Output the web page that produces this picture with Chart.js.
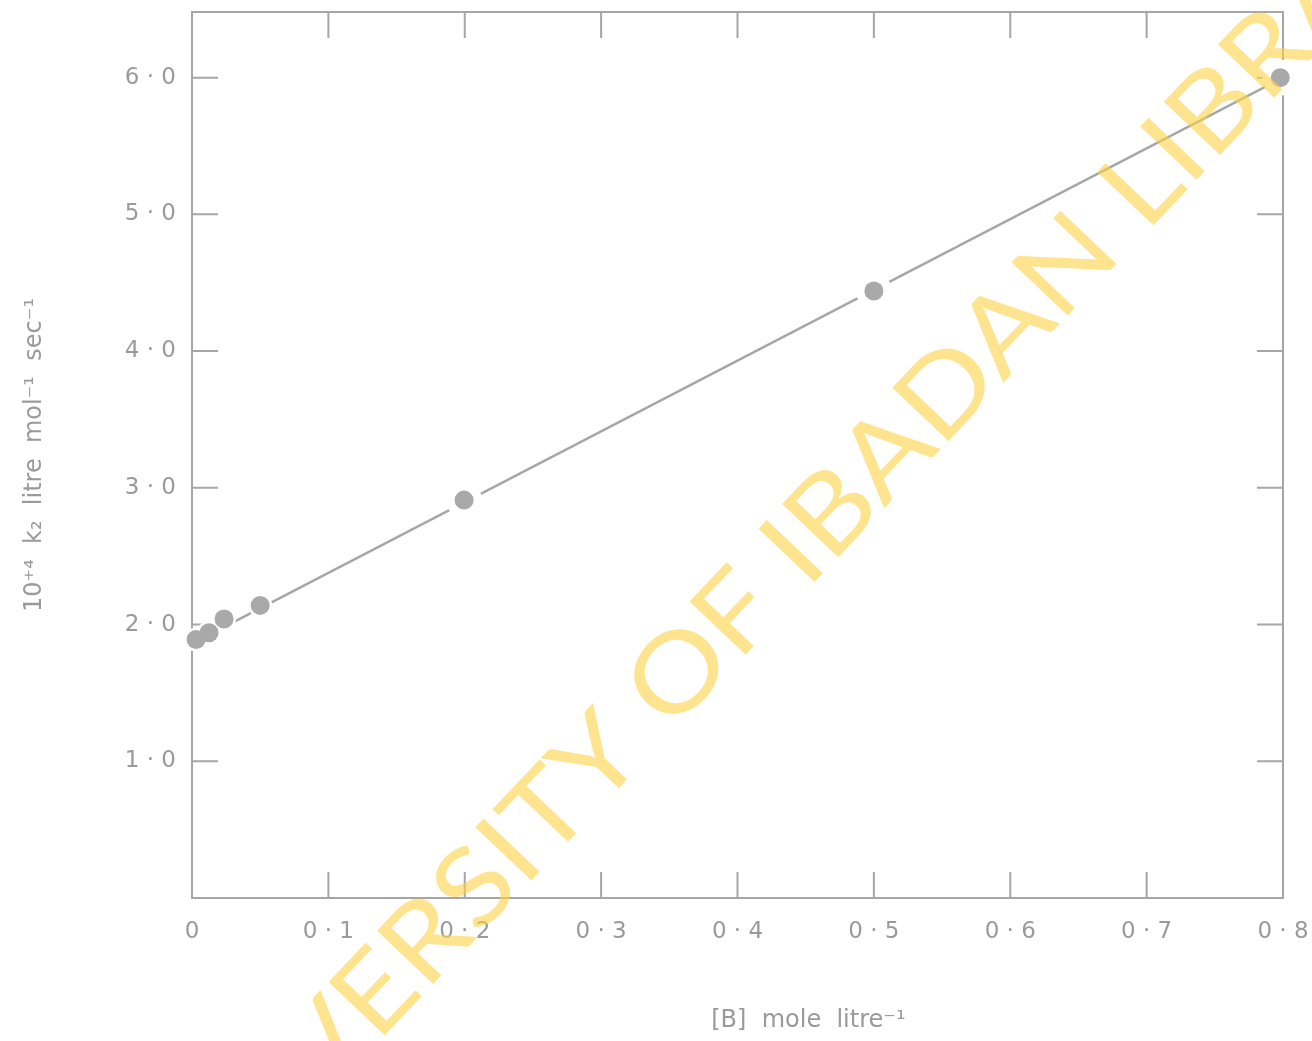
<!DOCTYPE html>
<html>
<head>
<meta charset="utf-8">
<title>k2 vs [B]</title>
<script src="https://cdn.jsdelivr.net/npm/chart.js@4.4.1/dist/chart.umd.min.js"></script>
<style>
    html, body {
        margin: 0;
        padding: 0;
        background: #ffffff;
    }
    .chart-wrapper {
        position: relative;
        width: 1312px;
        height: 1041px;
    }
</style>
</head>
<body>
<div class="chart-wrapper">
    <canvas id="chart" width="1312" height="1041"></canvas>
</div>
<script>
// measured points, [B] in mole/litre against 10^4 k2
const concB = [0.003, 0.0125, 0.0235, 0.05, 0.1995, 0.5, 0.798];
const k2 = [1.89, 1.94, 2.04, 2.14, 2.91, 4.44, 6.0];

// straight line drawn through the points
const fitX = [0, 0.8];
const fitY = [1.86, 6.0];

const xTickValues = [0, 0.1, 0.2, 0.3, 0.4, 0.5, 0.6, 0.7, 0.8];
const xTickLabels = ['0', '0 · 1', '0 · 2', '0 · 3', '0 · 4', '0 · 5', '0 · 6', '0 · 7', '0 · 8'];
const yTickValues = [1, 2, 3, 4, 5, 6];
const yTickLabels = ['1 · 0', '2 · 0', '3 · 0', '4 · 0', '5 · 0', '6 · 0'];

const xTitle = '[B]  mole  litre⁻¹';
const yTitle = '10⁺⁴  k₂  litre  mol⁻¹  sec⁻¹';
const watermark = 'UNIVERSITY OF IBADAN LIBRARY';

const INK = '#a6a6a6';
const TEXT = '#9a9a9a';
const FONT = '"DejaVu Sans", sans-serif';

// frame and inward tick marks on all four sides
const framePlugin = {
    id: 'frame',
    beforeDatasetsDraw(chart) {
        const { ctx, chartArea: a, scales } = chart;
        const len = 26;
        ctx.save();
        ctx.strokeStyle = INK;
        ctx.lineWidth = 2;
        ctx.strokeRect(a.left, a.top, a.right - a.left, a.bottom - a.top);
        ctx.beginPath();
        xTickValues.forEach(v => {
            if (v <= 0 || v >= 0.8) return;
            const px = scales.x.getPixelForValue(v);
            ctx.moveTo(px, a.top);
            ctx.lineTo(px, a.top + len);
            ctx.moveTo(px, a.bottom);
            ctx.lineTo(px, a.bottom - len);
        });
        yTickValues.forEach(v => {
            const py = scales.y.getPixelForValue(v);
            ctx.moveTo(a.left, py);
            ctx.lineTo(a.left + len, py);
            ctx.moveTo(a.right, py);
            ctx.lineTo(a.right - len, py);
        });
        ctx.stroke();
        ctx.restore();
    },
    afterDraw(chart) {
        const { ctx, chartArea: a } = chart;
        ctx.save();
        // x axis title sits right of centre in the original
        ctx.fillStyle = TEXT;
        ctx.font = '24px ' + FONT;
        ctx.textAlign = 'center';
        ctx.textBaseline = 'middle';
        ctx.fillText(xTitle, a.left + (a.right - a.left) * 0.565, 1021);

        // library stamp across the sheet
        const ang = -46.5 * Math.PI / 180;
        const dir = [Math.cos(ang), Math.sin(ang)];
        const stretch = 1.13;
        ctx.font = '108px Lato, sans-serif';
        ctx.textAlign = 'left';
        ctx.textBaseline = 'alphabetic';
        ctx.fillStyle = 'rgba(255, 210, 70, 0.6)';
        const w1 = ctx.measureText('UNIVERSITY OF ').width * stretch;
        const ix = 807, iy = 590;
        ctx.translate(ix - w1 * dir[0], iy - w1 * dir[1]);
        ctx.rotate(ang);
        ctx.scale(stretch, 1);
        ctx.fillText(watermark, 0, 0);
        ctx.restore();
    }
};

const points = concB.map((x, i) => ({ x, y: k2[i] }));
const fitLine = fitX.map((x, i) => ({ x, y: fitY[i] }));

new Chart(document.getElementById('chart'), {
    type: 'scatter',
    data: {
        datasets: [
            {
                label: 'k2',
                data: points,
                order: 0,
                clip: false,
                pointRadius: 9.5,
                pointBackgroundColor: '#a9a9a9',
                pointBorderWidth: 0,
            },
            {
                label: 'gap',
                data: points,
                order: 1,
                clip: false,
                pointRadius: ctx => (ctx.raw && ctx.raw.x < 0.1 ? 12 : 18),
                pointBackgroundColor: '#ffffff',
                pointBorderWidth: 0,
            },
            {
                label: 'fit',
                data: fitLine,
                order: 2,
                showLine: true,
                borderColor: INK,
                borderWidth: 2.5,
                pointRadius: 0,
            },
        ],
    },
    options: {
        responsive: false,
        animation: false,
        events: [],
        layout: {
            autoPadding: false,
            padding: { top: 12, right: 29, left: 0, bottom: 0 },
        },
        plugins: {
            legend: { display: false },
            tooltip: { enabled: false },
        },
        scales: {
            x: {
                type: 'linear',
                min: 0,
                max: 0.8,
                afterBuildTicks: s => { s.ticks = xTickValues.map(v => ({ value: v })); },
                afterFit: s => {
                    s.height = 143;
                    s.paddingLeft = 0;
                    s.paddingRight = 0;
                },
                grid: { display: false, drawTicks: false },
                border: { display: false },
                ticks: {
                    padding: 20,
                    color: TEXT,
                    font: { family: FONT, size: 23 },
                    maxRotation: 0,
                    autoSkip: false,
                    callback: (v, i) => xTickLabels[i],
                },
            },
            y: {
                type: 'linear',
                min: 0,
                max: 6.48,
                afterBuildTicks: s => { s.ticks = yTickValues.map(v => ({ value: v })); },
                afterFit: s => {
                    s.width = 192;
                    s.paddingTop = 0;
                    s.paddingBottom = 0;
                },
                grid: { display: false, drawTicks: false },
                border: { display: false },
                ticks: {
                    padding: 16,
                    color: TEXT,
                    font: { family: FONT, size: 23 },
                    callback: (v, i) => yTickLabels[i],
                },
                title: {
                    display: true,
                    text: yTitle,
                    color: TEXT,
                    font: { family: FONT, size: 24 },
                    padding: { top: 20, bottom: 0 },
                },
            },
        },
    },
    plugins: [framePlugin],
});
</script>
</body>
</html>
